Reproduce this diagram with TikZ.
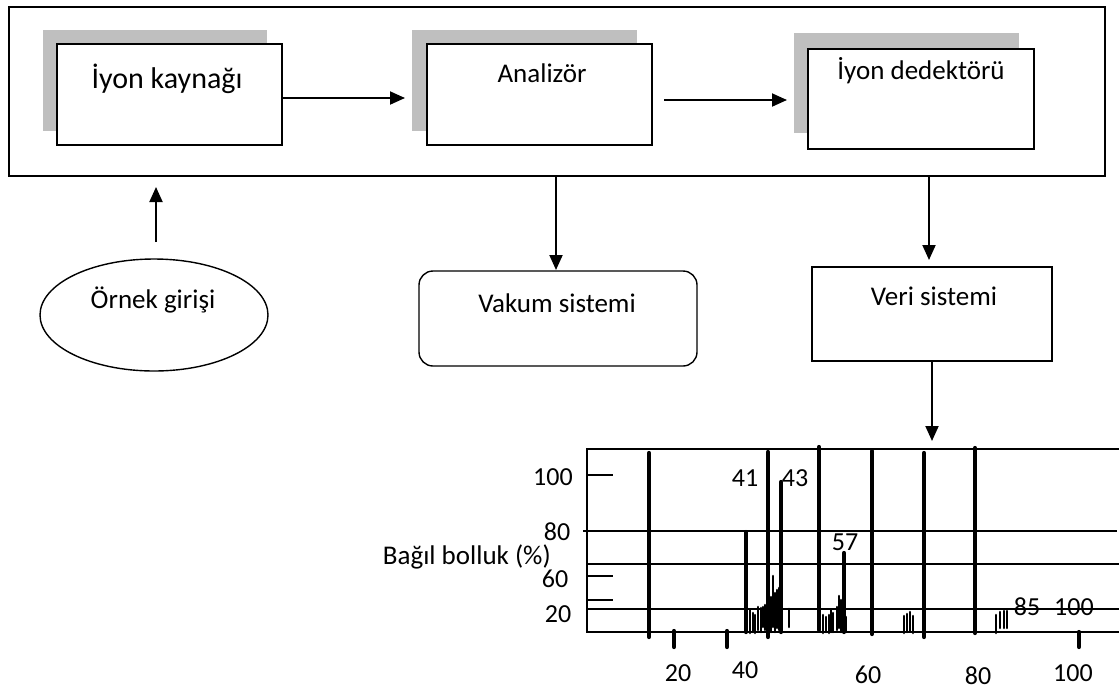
\documentclass[tikz,border=0pt]{standalone}
\usepackage{fontspec}
\setmainfont{Carlito}
\usetikzlibrary{arrows.meta,shapes.geometric}
\definecolor{shade}{RGB}{191,191,191}

\begin{document}
\begin{tikzpicture}[x=1pt,y=-1pt,
  shadowbox/.style={fill=shade, draw=none, inner sep=0pt},
  box/.style={draw, line width=1.4pt, fill=white, inner sep=0pt},
  arr/.style={line width=1.9pt, -{Triangle[length=15pt,width=13pt]}},
  lbl/.style={font=\fontsize{27}{32}\selectfont, inner sep=0pt},
  num/.style={font=\fontsize{26}{31}\selectfont, inner sep=0pt},
  gridline/.style={line width=1.9pt},
  bigbar/.style={line width=4.2pt, line cap=round},
  smallbar/.style={line width=2.6pt, line cap=round}
]
\useasboundingbox (0,0) rectangle (1119,689);

% outer instrument frame
\node[draw, line width=1.6pt, inner sep=0pt, minimum width=1096pt, minimum height=169pt] (frame) at (557,91.5) {};

% ion source
\node[shadowbox, minimum width=224pt, minimum height=101pt] (srcS) at (155,80.5) {};
\node[box, minimum width=225pt, minimum height=101pt] (src) at (169.5,94.5) {};
\node[lbl, font=\fontsize{30}{36}\selectfont] (srcT) at (167,79) {İyon kaynağı};

% analyser
\node[shadowbox, minimum width=225pt, minimum height=101pt] (anaS) at (524.5,80.5) {};
\node[box, minimum width=225pt, minimum height=101pt] (ana) at (539.5,94.5) {};
\node[lbl] (anaT) at (542,73) {Analizör};

% detector
\node[shadowbox, minimum width=225pt, minimum height=100pt] (detS) at (906.5,83) {};
\node[box, minimum width=226pt, minimum height=100pt] (det) at (921,99) {};
\node[lbl] (detT) at (921,71) {İyon dedektörü};

% sample inlet, vacuum, data system
\node[draw, line width=1.4pt, ellipse, inner sep=0pt, minimum width=228pt, minimum height=112pt] (inl) at (154,315) {};
\node[lbl] (inlT) at (153,300) {Örnek girişi};
\node[draw, line width=1.4pt, rounded corners=14pt, inner sep=0pt, minimum width=278pt, minimum height=95pt] (vak) at (558,318.5) {};
\node[lbl] (vakT) at (557,303) {Vakum sistemi};
\node[box, minimum width=240pt, minimum height=94pt] (veri) at (932,314) {};
\node[lbl] (veriT) at (934,296) {Veri sistemi};

% connector end points
\coordinate (a1s) at (282,98);   \coordinate (a1e) at (405,98);
\coordinate (a2s) at (664,100);  \coordinate (a2e) at (787,100);
\coordinate (upS) at (156,242);  \coordinate (upE) at (156,187);
\coordinate (vS) at (556,176);   \coordinate (vE) at (556,270);
\coordinate (dS) at (929,176);   \coordinate (dE) at (929,260);
\coordinate (cS) at (932,361);   \coordinate (cE) at (932,441);

\draw[arr] (a1s) -- (a1e);
\draw[arr] (a2s) -- (a2e);
\draw[arr] (upS) -- (upE);
\draw[arr] (vS) -- (vE);
\draw[arr] (dS) -- (dE);
\draw[arr] (cS) -- (cE);

% mass spectrum axes and grid
\coordinate (o) at (587,632);
\draw[gridline] (1119,449) -- (587,449) -- (o) -- (1119,632);
\draw[gridline] (583,531) -- (1117,531);
\draw[gridline] (587,564) -- (1119,564);
\draw[gridline] (587,609) -- (1119,609);
\foreach \yy in {475,576,600} \draw[gridline] (587,\yy) -- (613,\yy);

% spectrum peaks
\foreach \px/\pt/\pb in {649/453/637, 768/452/637, 781/482/632, 819/447/630,
  872/451/634, 924/453/637, 975/448/633, 746/532/632, 844/553/632,
  674/631/647, 727/631/647, 1079/632/647}
  \draw[bigbar] (\px,\pt) -- (\px,\pb);
\foreach \px/\pt/\pb in {750/610/633, 753/613/632, 755/615/633, 758/607/630,
  761/608/632, 763/607/627, 765/605/630, 771/597/632, 773/576/627,
  775/593/632, 777/590/628, 779/588/630, 789/609/627,
  823/615/633, 826/617/632, 829/615/633, 831/610/632, 833/613/632,
  837/607/630, 839/596/628, 841/600/632, 846/617/632,
  904/616/633, 907/614/632, 910/612/631, 913/616/633,
  996/615/633, 1000/612/628, 1004/611/628, 1007/611/628}
  \draw[smallbar] (\px,\pt) -- (\px,\pb);

% peak labels
\node[num] (p41) at (745,478) {41};
\node[num] (p43) at (795,478) {43};
\node[num] (p57) at (845,542) {57};
\node[num] (p85) at (1027,607) {85};
\node[num] (p100) at (1074,607) {100};

% axis labels
\node[num] (x20) at (678,673) {20};
\node[num] (x40) at (745,670) {40};
\node[num] (x60) at (868,675) {60};
\node[num] (x80) at (978,675.5) {80};
\node[num] (x100) at (1073,673) {100};
\node[num] (y100) at (553,477) {100};
\node[num] (y80) at (557,532) {80};
\node[num] (y60) at (555,579) {60};
\node[num] (y20) at (558,614) {20};
\node[lbl, anchor=east] (ylab) at (551,557) {Bağıl bolluk (\%)};
\end{tikzpicture}
\end{document}
